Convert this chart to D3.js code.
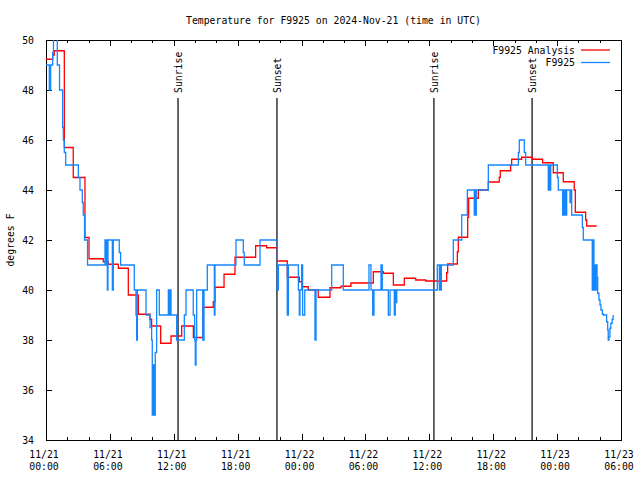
<!DOCTYPE html>
<html>
<head>
<meta charset="utf-8">
<script src="https://cdn.jsdelivr.net/npm/d3@7"></script>
<style>
  html, body { margin: 0; padding: 0; background: #fff; }
  text { font-family: "DejaVu Sans Mono", monospace; font-size: 9.8px; fill: #000; }
</style>
</head>
<body>
<svg id="chart" width="640" height="480"></svg>
<script>
// ---------------- data ----------------
const chartTitle = "Temperature for F9925 on 2024-Nov-21 (time in UTC)";
const yLabel = "degrees F";
const startUtc = Date.UTC(2024, 10, 21, 0, 0);   // hour 0 of the x axis
const xHoursDomain = [0, 54];
const yDomain = [34, 50];
const yTicks = [34, 36, 38, 40, 42, 44, 46, 48, 50];
const xMajorTicks = [0, 6, 12, 18, 24, 30, 36, 42, 48, 54];
const xMinorTicks = [2, 4, 8, 10, 14, 16, 20, 22, 26, 28, 32, 34, 38, 40, 44, 46, 50, 52];
const seriesNames = ["F9925 Analysis", "F9925"];

// sun events: [hours since 11/21 00:00 UTC, label]
const sunEvents = [[12.40, "Sunrise"], [21.69, "Sunset"], [36.43, "Sunrise"], [45.65, "Sunset"]];

// analysis series (red), [hour, temp F], drawn as steps
const analysisSeries = [
  [0,49.23],[0.63,49.4],[0.78,49.57],[1.72,45.7],[2.56,44.5],[3.66,42.1],[4.04,41.25],
  [5.38,41.13],[5.85,41.03],[6.79,40.87],[7.73,39.8],[8.67,39.03],[9.77,38.83],[9.92,38.56],
  [10.77,37.87],[11.74,38.16],[12.74,38.56],[13.84,38.1],[14.71,39.31],[15.71,39.53],
  [15.87,40.11],[16.72,40.63],[17.75,41.31],[19.69,41.77],[20.72,41.69],[21.72,41.16],
  [22.66,40.51],[23.79,40.33],[24.01,40.13],[24.63,40.0],[25.57,39.71],[26.67,40.09],
  [27.7,40.15],[28.64,40.28],[30.74,40.73],[31.68,40.67],[32.62,40.2],[33.65,40.47],
  [34.72,40.4],[35.66,40.36],[37.63,40.69],[37.72,41.04],[38.63,41.53],[38.72,42.11],
  [39.6,42.91],[39.69,43.67],[40.6,44.0],[41.54,44.32],[42.57,44.51],[42.66,44.77],
  [43.64,45.0],[43.73,45.23],[44.67,45.31],[45.67,45.23],[46.64,45.09],[47.64,44.69],
  [48.58,44.33],[49.61,44.0],[49.71,43.11],[50.68,42.8],[50.78,42.56],[51.72,42.56]
];

// observed series (blue), [hour, temp F], drawn as steps
const observedSeries = [
  [0,49],[0.31,48],[0.44,49],[0.63,49.5],[0.7,50.5],[1.06,49],[1.27,48],[1.56,46.5],
  [1.63,46],[1.72,45.5],[1.85,45],[3.04,44.5],[3.19,44],[3.41,43.5],[3.5,43],[3.62,42],
  [3.9,41],[5.54,42],[5.6,41],[5.66,42],[5.76,40],[5.82,42],[6.23,40],[6.32,42],[6.88,41.5],
  [7.01,41],[8.29,40],[8.45,39],[8.51,38],[8.58,40],[9.39,39],[9.77,38.5],[9.92,38],
  [9.98,35],[10.08,37],[10.17,35],[10.26,37.5],[10.39,40],[10.64,39],[11.49,40],[11.58,39],
  [11.65,40],[11.74,39],[12.27,38],[12.99,39],[13.15,40],[13.83,39],[13.96,38],[14.02,37],
  [14.09,38],[14.15,40],[14.72,38],[14.84,40],[15.15,41],[15.81,39],[15.87,41],[17.84,42],
  [18.53,41.5],[18.62,41],[20.1,42],[21.72,40],[21.82,41],[22.66,39],[22.76,41],[23.7,40],
  [23.79,39],[23.85,40],[24.01,41],[24.1,39],[24.3,40],[25.26,38],[25.36,40],[26.83,41],
  [27.92,40],[30.33,41],[30.52,40],[30.68,39],[30.8,40],[31.46,41],[31.58,40],[32.15,39],
  [32.31,40],[32.71,39],[32.8,40],[32.87,39.5],[32.94,40],[36.75,41],[36.94,40],[37.0,41],
  [37.07,40],[37.13,41],[38.25,42],[39.04,43],[39.57,44],[40.22,43],[40.29,44],[40.35,43],
  [40.41,44],[41.54,45],[44.36,45.5],[44.45,46],[44.92,45.5],[45.05,45],[47.17,44],[47.27,45],
  [47.33,44],[47.4,45],[48.02,44.5],[48.11,44],[48.52,43],[48.62,44],[48.68,43],[48.77,44],
  [48.84,43],[48.9,44],[49.21,43.5],[49.28,44],[49.37,43],[50.37,42.5],[50.46,42],[51.3,40],
  [51.37,42],[51.46,40],[51.56,41],[51.62,40],[51.68,41],[51.75,40.5],[51.81,39.87],
  [51.93,39.6],[52.03,39.4],[52.12,39.2],[52.25,39.04],[52.34,39.0],[52.65,38.73],
  [52.75,38.4],[52.8,38.0],[52.87,38.13],[52.96,38.47],[53.05,38.67],[53.17,38.83],[53.26,39.0]
];

// ---------------- drawing ----------------
const plot = { left: 46, right: 621, top: 40, bottom: 440 };
const colors = ["#ff0000", "#1487ff"];

const svg = d3.select("#chart");
const x = d3.scaleLinear().domain(xHoursDomain).range([plot.left, plot.right]);
const y = d3.scaleLinear().domain(yDomain).range([plot.bottom, plot.top]);

svg.append("defs").append("clipPath").attr("id", "clip")
  .append("rect").attr("x", plot.left).attr("y", plot.top)
  .attr("width", plot.right - plot.left).attr("height", plot.bottom - plot.top);

// title
svg.append("text").attr("x", (plot.left + plot.right) / 2).attr("y", 24)
  .attr("text-anchor", "middle").text(chartTitle);

// y label
svg.append("text").attr("transform", `translate(14,${(plot.top + plot.bottom) / 2}) rotate(-90)`)
  .attr("text-anchor", "middle").text(yLabel);

function styleAxis(g) {
  g.select(".domain").remove();
  g.selectAll("line").attr("stroke", "#000").attr("shape-rendering", "crispEdges");
}

// x axes: bottom & top (ticks inward)
svg.append("g").attr("transform", `translate(0,${plot.bottom})`)
  .call(d3.axisBottom(x).tickValues(xMajorTicks).tickSize(-6).tickFormat(""))
  .call(styleAxis);
svg.append("g").attr("transform", `translate(0,${plot.bottom})`)
  .call(d3.axisBottom(x).tickValues(xMinorTicks).tickSize(-3).tickFormat(""))
  .call(styleAxis);
svg.append("g").attr("transform", `translate(0,${plot.top})`)
  .call(d3.axisTop(x).tickValues(xMajorTicks).tickSize(-6).tickFormat(""))
  .call(styleAxis);
svg.append("g").attr("transform", `translate(0,${plot.top})`)
  .call(d3.axisTop(x).tickValues(xMinorTicks).tickSize(-3).tickFormat(""))
  .call(styleAxis);

// x tick labels (two lines)
const fmtDay = d3.utcFormat("%m/%d"), fmtTime = d3.utcFormat("%H:%M");
const xl = svg.append("g");
xMajorTicks.forEach(h => {
  const d = new Date(startUtc + h * 3600e3);
  const t = xl.append("text").attr("text-anchor", "middle");
  t.append("tspan").attr("x", x(h) - 2).attr("y", plot.bottom + 18).text(fmtDay(d));
  t.append("tspan").attr("x", x(h) - 2).attr("y", plot.bottom + 30).text(fmtTime(d));
});

// y axes: left (labels) & right (mirror)
svg.append("g").attr("transform", `translate(${plot.left},0)`)
  .call(d3.axisLeft(y).tickValues(yTicks).tickSize(-6).tickPadding(12).tickFormat(d3.format("d")))
  .call(styleAxis)
  .call(g => g.selectAll("text").attr("font-family", "DejaVu Sans Mono").attr("font-size", "9.8px").attr("fill", "#000"));
svg.append("g").attr("transform", `translate(${plot.right},0)`)
  .call(d3.axisRight(y).tickValues(yTicks).tickSize(-6).tickFormat(""))
  .call(styleAxis);

// frame
svg.append("rect").attr("x", plot.left).attr("y", plot.top)
  .attr("width", plot.right - plot.left).attr("height", plot.bottom - plot.top)
  .attr("fill", "none").attr("stroke", "#000").attr("shape-rendering", "crispEdges");

// sunrise / sunset markers
const sun = svg.append("g");
sunEvents.forEach(([h, label]) => {
  sun.append("line").attr("x1", x(h)).attr("x2", x(h)).attr("y1", 98).attr("y2", plot.bottom)
    .attr("stroke", "#000").attr("stroke-width", 1.2);
  sun.append("text").attr("transform", `translate(${x(h) + 4},93) rotate(-90)`)
    .attr("text-anchor", "start").text(label);
});

// series lines
const line = d3.line().x(d => x(d[0])).y(d => y(d[1])).curve(d3.curveStepAfter);
const lines = svg.append("g").attr("clip-path", "url(#clip)");
lines.append("path").datum(analysisSeries).attr("d", line)
  .attr("fill", "none").attr("stroke", colors[0]).attr("stroke-width", 1.3);
lines.append("path").datum(observedSeries).attr("d", line)
  .attr("fill", "none").attr("stroke", colors[1]).attr("stroke-width", 1.3);

// legend
const leg = svg.append("g");
seriesNames.forEach((name, i) => {
  const ly = 50 + i * 12.5;
  leg.append("text").attr("x", 575).attr("y", ly + 3.5).attr("text-anchor", "end").text(name);
  leg.append("line").attr("x1", 581).attr("x2", 610).attr("y1", ly).attr("y2", ly)
    .attr("stroke", colors[i]).attr("stroke-width", 1.3);
});
</script>
</body>
</html>
